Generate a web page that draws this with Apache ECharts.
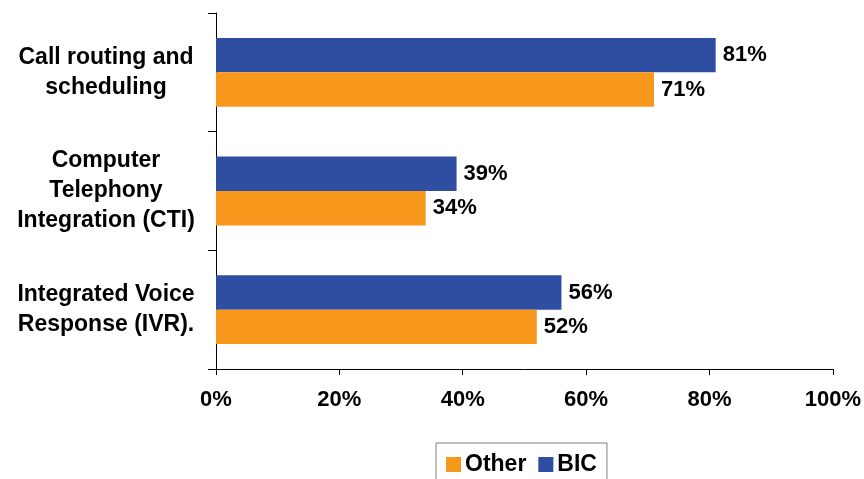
<!DOCTYPE html>
<html>
<head>
<meta charset="utf-8">
<script src="https://cdn.jsdelivr.net/npm/echarts@6/dist/echarts.min.js"></script>
<style>html,body{margin:0;padding:0;background:#fff}#c{width:864px;height:479px}</style>
</head>
<body>
<div id="c"></div>
<script>
var categories = ['Integrated Voice\nResponse (IVR).', 'Computer\nTelephony\nIntegration (CTI)', 'Call routing and\nscheduling'];
var otherValues = [52, 34, 71];
var bicValues = [56, 39, 81];
var xTicks = [0, 20, 40, 60, 80, 100];

var FONT = '"Liberation Sans", Arial, sans-serif';
var chart = echarts.init(document.getElementById('c'));
chart.setOption({
  animation: false,
  backgroundColor: '#fff',
  grid: { left: 216, right: 31, top: 13, bottom: 110, containLabel: false },
  legend: {
    data: ['Other', 'BIC'],
    bottom: -18,
    left: 436,
    itemWidth: 15, itemHeight: 15, itemGap: 12,
    icon: 'rect',
    borderColor: '#7f7f7f', borderWidth: 1,
    padding: [10, 10, 21, 10],
    textStyle: { fontFamily: FONT, fontSize: 23, fontWeight: 'bold', color: '#000', padding: [0, 0, 0, -1] }
  },
  xAxis: {
    type: 'value', min: xTicks[0], max: xTicks[xTicks.length - 1], interval: 20,
    splitLine: { show: false },
    axisLine: { show: true, lineStyle: { color: '#000', width: 1 } },
    axisTick: { show: true, length: 6, lineStyle: { color: '#000' } },
    axisLabel: { formatter: '{value}%', margin: 20, fontFamily: FONT, fontSize: 22, fontWeight: 'bold', color: '#000' }
  },
  yAxis: {
    type: 'category', data: categories,
    axisLine: { show: true, lineStyle: { color: '#000', width: 1 } },
    axisTick: { show: true, length: 8, lineStyle: { color: '#000' } },
    axisLabel: { margin: 110, align: 'center', lineHeight: 30, fontFamily: FONT, fontSize: 23, fontWeight: 'bold', color: '#000' }
  },
  series: [
    {
      name: 'BIC', type: 'bar', data: bicValues,
      barGap: '0%', barCategoryGap: '42%',
      itemStyle: { color: '#2E4EA2' },
      label: { show: true, position: 'right', distance: 7, formatter: '{c}%', fontFamily: FONT, fontSize: 22, fontWeight: 'bold', color: '#000' }
    },
    {
      name: 'Other', type: 'bar', data: otherValues,
      barGap: '0%', barCategoryGap: '42%',
      itemStyle: { color: '#F7981D' },
      label: { show: true, position: 'right', distance: 7, formatter: '{c}%', fontFamily: FONT, fontSize: 22, fontWeight: 'bold', color: '#000' }
    }
  ]
});
</script>
</body>
</html>
